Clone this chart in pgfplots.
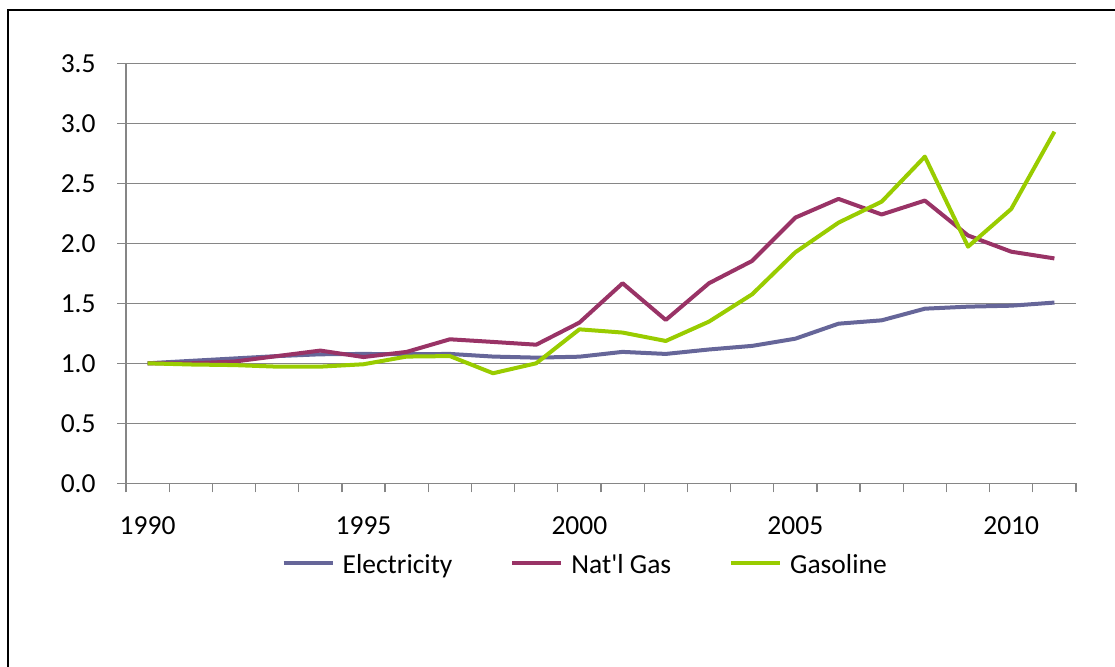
\documentclass[border=0pt]{standalone}
\usepackage{fontspec}
\setmainfont{Carlito}
\usepackage{pgfplots}
\pgfplotsset{compat=1.18}
\definecolor{elec}{HTML}{666699}
\definecolor{gas}{HTML}{993366}
\definecolor{gasol}{HTML}{99CC00}
\definecolor{gridgray}{HTML}{868686}
\begin{document}
\fontsize{13.75}{16}\selectfont
\begin{tikzpicture}
\useasboundingbox (-63pt,-91.85pt) rectangle (494.5pt,241.65pt);
\draw[line width=1pt] (-59.15pt,-100pt) -- (-59.15pt,236.5pt) -- (500pt,236.5pt);
\begin{axis}[
  at={(0,0)}, anchor=south west,
  scale only axis, width=475pt, height=210pt,
  xmin=1989.5, xmax=2011.5,
  ymin=0, ymax=3.5,
  axis x line*=bottom, axis y line*=left,
  axis line style={gridgray, line width=0.6pt},
  xtick={1989.5,1990.5,...,2011.5},
  xticklabels={},
  extra x ticks={1990,1995,2000,2005,2010},
  extra x tick labels={1990,1995,2000,2005,2010},
  extra x tick style={major tick length=0pt, grid=none},
  ytick={0,0.5,...,3.5},
  yticklabel style={/pgf/number format/fixed, /pgf/number format/fixed zerofill, /pgf/number format/precision=1},
  /pgf/number format/assume math mode=true,
  tick align=outside,
  major tick length=4.5pt,
  tick style={gridgray, line width=0.6pt},
  ymajorgrids, xmajorgrids=false,
  major grid style={gridgray, line width=0.6pt},
  yticklabel style={inner sep=0pt, xshift=-10.5pt},
  xticklabel style={inner sep=0pt, yshift=-16.7pt},
  ticklabel style={font=\fontsize{13.75}{16}\selectfont},
  legend columns=3,
  legend style={draw=none, fill=none, inner sep=0pt, outer sep=0pt,
    at={(rel axis cs:0.1639,-0.1969)}, anchor=west,
    font=\fontsize{13.75}{16}\selectfont,
    nodes={inner sep=0pt},
    /tikz/every odd column/.append style={column sep=4pt},
    /tikz/every even column/.append style={column sep=29pt}},
  legend image code/.code={\draw[#1, line width=2pt] (0pt,1.5pt) -- (24.5pt,1.5pt);},
  every axis plot/.append style={line width=2pt, line join=round, mark=none},
]
\addplot[elec] coordinates {
(1990,1.00) (1991,1.02) (1992,1.04) (1993,1.06) (1994,1.075) (1995,1.078)
(1996,1.075) (1997,1.078) (1998,1.056) (1999,1.047) (2000,1.055) (2001,1.095)
(2002,1.078) (2003,1.115) (2004,1.145) (2005,1.205) (2006,1.33) (2007,1.358)
(2008,1.455) (2009,1.472) (2010,1.48) (2011,1.506)};
\addlegendentry{Electricity}
\addplot[gas] coordinates {
(1990,1.00) (1991,1.00) (1992,1.014) (1993,1.06) (1994,1.106) (1995,1.052)
(1996,1.095) (1997,1.20) (1998,1.178) (1999,1.155) (2000,1.339) (2001,1.667)
(2002,1.361) (2003,1.667) (2004,1.853) (2005,2.214) (2006,2.37) (2007,2.24)
(2008,2.356) (2009,2.065) (2010,1.93) (2011,1.874)};
\addlegendentry{Nat\textquotesingle l Gas}
\addplot[gasol] coordinates {
(1990,1.00) (1991,0.99) (1992,0.985) (1993,0.972) (1994,0.972) (1995,0.992)
(1996,1.056) (1997,1.06) (1998,0.917) (1999,1.00) (2000,1.283) (2001,1.256)
(2002,1.186) (2003,1.347) (2004,1.575) (2005,1.925) (2006,2.172) (2007,2.347)
(2008,2.722) (2009,1.972) (2010,2.286) (2011,2.93)};
\addlegendentry{Gasoline}
\end{axis}
\end{tikzpicture}
\end{document}
